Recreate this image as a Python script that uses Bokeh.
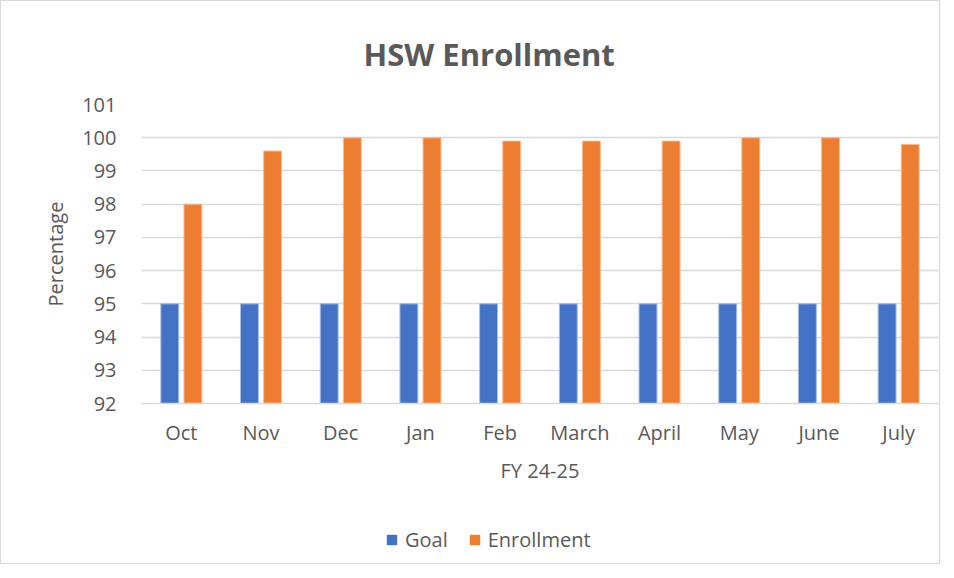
from bokeh.plotting import figure
from bokeh.layouts import column
from bokeh.models import ColumnDataSource, FactorRange, Legend, LegendItem, FixedTicker, Range1d
from bokeh.transform import dodge
from bokeh.embed import file_html
from bokeh.resources import INLINE

months = ["Oct", "Nov", "Dec", "Jan", "Feb", "March", "April", "May", "June", "July"]
goal = [95, 95, 95, 95, 95, 95, 95, 95, 95, 95]
enrollment = [98, 99.6, 100, 100, 99.9, 99.9, 99.9, 100, 100, 99.8]
y_ticks = [92, 93, 94, 95, 96, 97, 98, 99, 100, 101]
y_min, y_max = 92, 101

FONT = "Open Sans"
TXT = "#595959"
BLUE = "#4472C4"
ORANGE = "#ED7D31"

src = ColumnDataSource(dict(months=months, goal=goal, enrollment=enrollment))

p = figure(
    x_range=FactorRange(factors=months, range_padding=0),
    y_range=Range1d(y_min, y_max),
    width=938, height=500,
    output_backend="svg", toolbar_location=None,
    title="HSW Enrollment",
    min_border_left=140, min_border_right=1, min_border_top=103, min_border_bottom=98,
)

r_goal = p.vbar(x=dodge("months", -0.145, range=p.x_range), top="goal", bottom=y_min,
                width=0.225, source=src, fill_color=BLUE, line_color="#A9BFE6", line_width=1)
r_enr = p.vbar(x=dodge("months", 0.145, range=p.x_range), top="enrollment", bottom=y_min,
               width=0.225, source=src, fill_color=ORANGE, line_color="#F6BE98", line_width=1)

p.title.align = "left"
p.title.offset = 222
p.title.text_font = FONT
p.title.text_font_size = "31px"
p.title.text_font_style = "bold"
p.title.text_color = TXT
p.title.standoff = 59

p.outline_line_color = None
p.xgrid.grid_line_color = None
p.ygrid.grid_line_color = "#D9D9D9"
p.ygrid.grid_line_width = 1.5

p.yaxis.ticker = FixedTicker(ticks=y_ticks)
p.yaxis.axis_line_color = None
p.yaxis.major_tick_line_color = None
p.yaxis.minor_tick_line_color = None
p.yaxis.major_label_text_font = FONT
p.yaxis.major_label_text_font_size = "20px"
p.yaxis.major_label_text_color = TXT
p.yaxis.major_label_standoff = 19
p.yaxis.axis_label = "Percentage"
p.yaxis.axis_label_text_font = FONT
p.yaxis.axis_label_text_font_size = "20px"
p.yaxis.axis_label_text_font_style = "normal"
p.yaxis.axis_label_text_color = TXT
p.yaxis.axis_label_standoff = 10

p.xaxis.axis_line_color = "#D9D9D9"
p.xaxis.axis_line_width = 1.5
p.xaxis.major_tick_line_color = None
p.xaxis.minor_tick_line_color = None
p.xaxis.major_label_text_font = FONT
p.xaxis.major_label_text_font_size = "20px"
p.xaxis.major_label_text_color = TXT
p.xaxis.major_label_standoff = 9
p.xaxis.axis_label = "FY 24-25"
p.xaxis.axis_label_text_font = FONT
p.xaxis.axis_label_text_font_size = "20px"
p.xaxis.axis_label_text_font_style = "normal"
p.xaxis.axis_label_text_color = TXT
p.xaxis.axis_label_standoff = 8

# legend strip below the chart: its bars fall outside its numeric view, only the legend shows
q = figure(
    x_range=Range1d(0, 1),
    y_range=Range1d(0, 1),
    width=938, height=62,
    output_backend="svg", toolbar_location=None,
    x_axis_location=None, y_axis_location=None,
    min_border=0,
)
q.outline_line_color = None
q.grid.visible = False
lg_goal = q.vbar(x="months", top="goal", bottom=y_min, width=0.225, source=src,
                 fill_color=BLUE, line_color=None)
lg_enr = q.vbar(x="months", top="enrollment", bottom=y_min, width=0.225, source=src,
                fill_color=ORANGE, line_color=None)

legend = Legend(
    items=[LegendItem(label="Goal", renderers=[lg_goal]),
           LegendItem(label="Enrollment", renderers=[lg_enr])],
    orientation="horizontal", location=(244, 10),
    label_text_font=FONT, label_text_font_size="20px", label_text_color=TXT,
    glyph_width=13, glyph_height=13, label_standoff=7, spacing=20,
    border_line_color=None, background_fill_alpha=0, padding=4, margin=0,
)
q.add_layout(legend)

layout = column(p, q, spacing=0, styles={"border": "1px solid #D9D9D9"})

open("out.html", "w").write(file_html(layout, INLINE))
